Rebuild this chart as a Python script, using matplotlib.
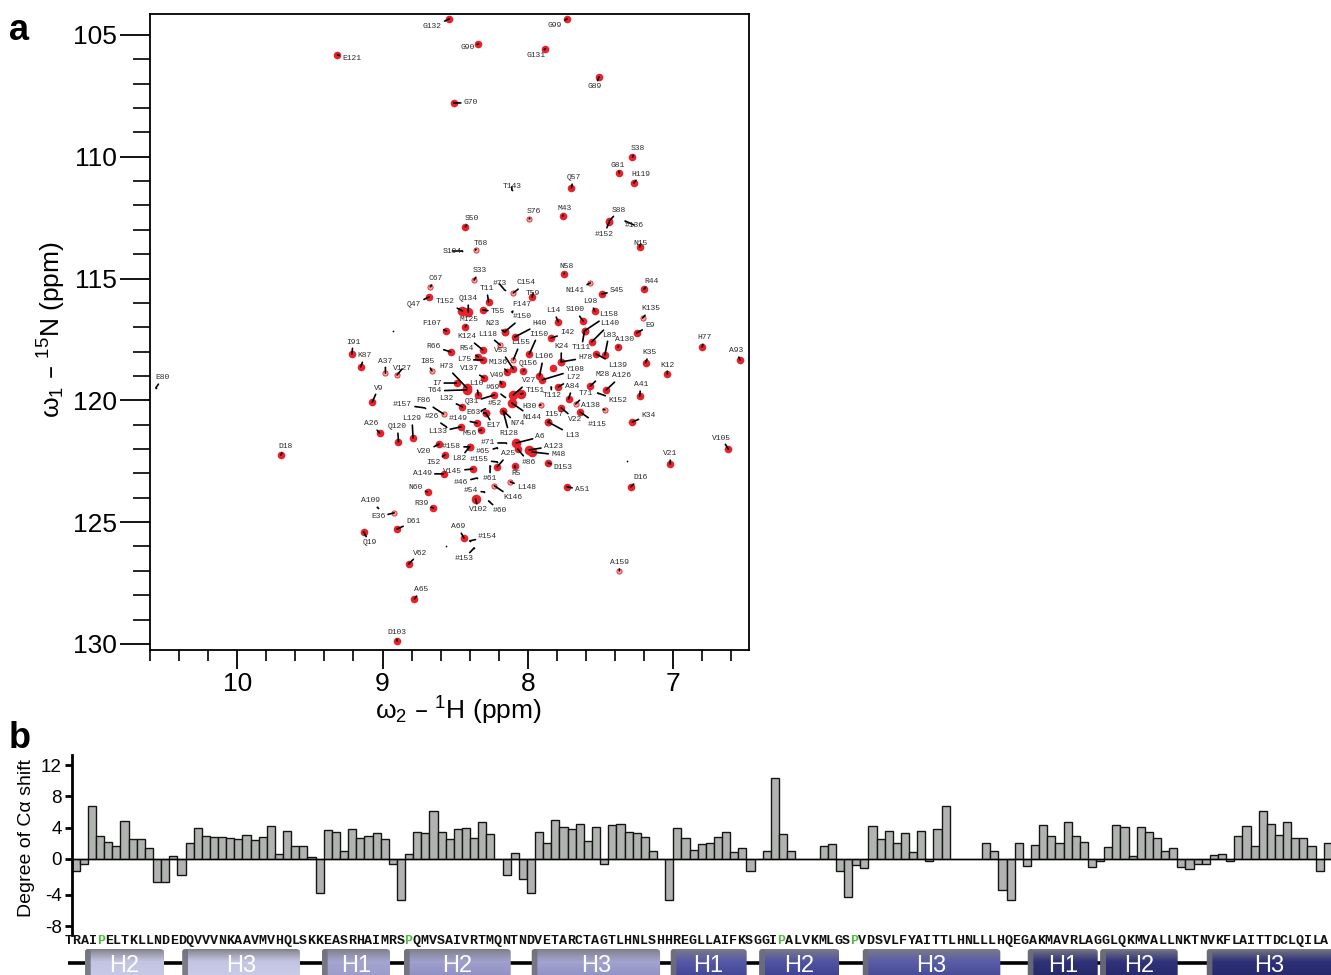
import matplotlib
matplotlib.use('Agg')
import matplotlib.pyplot as plt
import numpy as np
from matplotlib.colors import LinearSegmentedColormap
from matplotlib.patches import FancyBboxPatch
from matplotlib.ticker import MultipleLocator

plt.rcParams['font.family'] = ['Liberation Sans', 'DejaVu Sans']
plt.rcParams['mathtext.default'] = 'regular'

# Assigned HSQC peaks
peak_names = ['G132', 'G99', 'G90', 'G131', 'E121', 'G89', 'G70', 'S38', 'G81', 'H119',
              'Q57', 'T143', 'S76', 'M43', 'S88', '#136', '#152', 'S50', 'N15', 'T68',
              'S104', 'N58', 'S33', 'R44', 'C67', 'Q47', '#73', 'C154', 'T59', 'T11',
              'T152', 'Q134', 'T55', 'F147', '#150', 'N23', 'H40', 'M125', 'F107', 'L118',
              'I150', 'L155', 'K124', 'R54', 'R66', 'V53', 'L75', 'M136', 'Q156', 'L106',
              'I91', 'K87', 'A37', 'V127', 'I85', 'H73', 'V137', 'V49', 'I7', 'T64',
              'L10', '#69', 'Q31', 'V9', 'L32', 'F86', '#157', '#52', 'E63', 'H30',
              '#149', '#26', 'T151', 'V27', 'Y108', 'T112', 'L72', 'A84', 'M28', 'A126',
              'T71', 'K152', 'A138', '#115', 'V22', 'I157', 'L13', 'N144', 'N74', 'E17',
              'R128', 'M56', 'L133', 'Q120', 'L129', 'A26', 'A6', 'A123', 'M48', 'D18',
              'D153', 'A51', 'R5', '#86', 'A25', '#155', 'L82', '#158', '#71', '#65',
              'V20', 'I52', 'A149', 'V145', '#61', '#46', 'N60', '#54', 'L148', 'K146',
              'V102', '#60', 'R39', 'A109', 'E36', 'D61', 'Q19', 'A69', '#154', '#153',
              'V62', 'A65', 'A159', 'D103', 'D16', 'V105', 'V21', 'E80', 'K34', 'A41',
              'K12', 'K35', 'H77', 'A93', 'A130', 'E9', 'K135', 'L83', 'L139', 'L140',
              'L158', 'T111', 'S100', 'L98', 'L14', 'I42', 'K24', 'H78', 'S45', 'N141']
peak_w2 = [8.54, 7.73, 8.34, 7.88, 9.31, 7.51, 8.51, 7.28, 7.37, 7.27,
           7.70, 8.11, 7.99, 7.76, 7.44, 7.33, 7.44, 8.43, 7.23, 8.36,
           8.45, 7.75, 8.37, 7.20, 8.67, 8.68, 8.16, 8.10, 7.97, 8.27,
           8.45, 8.41, 8.31, 8.11, 8.16, 8.16, 8.09, 8.43, 8.56, 8.19,
           7.99, 8.10, 8.31, 8.34, 8.53, 8.10, 8.31, 8.14, 8.03, 7.92,
           9.21, 9.15, 8.98, 8.90, 8.66, 8.42, 8.30, 8.18, 8.49, 8.42,
           8.34, 8.16, 8.23, 9.07, 8.45, 8.58, 8.71, 8.32, 8.29, 7.91,
           8.35, 8.56, 8.05, 8.10, 7.90, 7.84, 7.79, 7.72, 7.57, 7.46,
           7.67, 7.52, 7.47, 7.64, 7.77, 7.86, 7.86, 8.11, 8.17, 8.29,
           8.17, 8.32, 8.46, 8.89, 8.79, 9.02, 8.08, 7.99, 7.97, 9.70,
           7.86, 7.73, 8.09, 8.07, 8.21, 8.21, 8.40, 8.40, 8.15, 8.21,
           8.61, 8.57, 8.58, 8.38, 8.26, 8.35, 8.69, 8.30, 8.12, 8.23,
           8.36, 8.27, 8.65, 9.03, 8.92, 8.90, 9.13, 8.44, 8.40, 8.37,
           8.82, 8.78, 7.37, 8.90, 7.29, 6.62, 7.02, 10.56, 7.28, 7.23,
           7.04, 7.19, 6.80, 6.54, 7.38, 7.25, 7.21, 7.47, 7.53, 7.56,
           7.61, 7.61, 7.62, 7.54, 7.79, 7.84, 7.77, 7.77, 7.49, 7.57]
peak_w1 = [104.34, 104.34, 105.37, 105.57, 105.82, 106.72, 107.79, 110.01, 110.67, 111.08,
           111.28, 111.36, 112.55, 112.43, 112.64, 112.64, 112.68, 112.88, 113.70, 113.83,
           113.87, 114.81, 115.06, 115.43, 115.34, 115.76, 115.47, 115.59, 115.76, 115.96,
           116.33, 116.37, 116.29, 116.37, 117.19, 117.19, 117.40, 116.99, 117.15, 117.73,
           118.10, 118.34, 117.93, 118.22, 118.01, 118.71, 118.34, 118.83, 118.79, 119.00,
           118.10, 118.63, 118.88, 118.96, 118.79, 119.49, 119.08, 119.33, 119.29, 119.57,
           119.78, 119.86, 119.78, 120.07, 120.27, 120.56, 120.31, 120.43, 120.52, 120.19,
           120.93, 121.09, 119.74, 119.78, 119.16, 119.45, 119.45, 119.94, 119.41, 119.57,
           120.15, 119.70, 120.39, 120.48, 120.31, 120.89, 120.89, 120.11, 120.43, 120.52,
           120.43, 121.22, 121.09, 121.71, 121.54, 121.34, 121.75, 122.04, 122.12, 122.24,
           122.57, 123.55, 122.69, 122.00, 122.73, 122.53, 121.91, 121.91, 121.75, 121.95,
           121.79, 122.24, 123.02, 122.82, 122.69, 123.19, 123.76, 123.76, 123.35, 123.51,
           124.05, 124.13, 124.42, 124.42, 124.62, 125.28, 125.40, 125.65, 125.77, 126.06,
           126.72, 128.15, 127.00, 129.88, 123.55, 122.00, 122.61, 119.49, 120.89, 119.82,
           118.92, 118.46, 117.81, 118.34, 117.81, 117.23, 116.62, 118.14, 118.10, 117.60,
           117.15, 117.15, 116.74, 116.33, 116.78, 117.44, 118.42, 118.42, 115.63, 115.18]
weak_peaks = ['S76', 'S33', 'C67', 'A37', 'V127', 'I85', 'L155', 'H30', 'A138', 'K135',
              'L118', 'T68', 'N141', 'F86', 'E36', 'L148', 'K146', 'T71', 'C154', 'A159']
tiny_peaks = ['T143', '#136', '#73', 'S104', 'F147', '#69', '#157', '#26', '#52', 'K152', '#155',
              '#71', '#65', '#61', '#46', '#54', '#60', 'A109', '#154', '#153', 'E80', 'T112']
large_peaks = ['T151', 'V27', 'N144', 'A123', 'M48', 'A6', 'H73', 'T64', 'T152', 'Q134', 'V102']
# Peaks without an assignment
other_w2 = [7.83, 8.93, 7.32, 8.56]
other_w1 = [118.67, 117.15, 122.49, 125.98]

# Per-residue shift
shift_values = [-1.5, -0.7, 6.8, 3.0, 2.2, 1.7, 4.9, 2.5, 2.6, 1.4,
                -3.0, -3.0, 0.4, -2.0, 2.1, 4.0, 2.9, 2.8, 2.8, 2.7,
                2.6, 3.1, 2.4, 2.8, 4.2, 0.7, 3.6, 1.6, 1.6, 0.2,
                -4.4, 3.7, 3.5, 1.0, 3.9, 2.7, 3.0, 3.3, 2.5, -0.6,
                -5.2, 0.6, 3.5, 3.3, 6.2, 3.5, 2.6, 3.8, 4.0, 2.7,
                4.7, 3.2, 0.05, -2.1, 0.8, -2.5, -4.3, 3.4, 2.0, 5.0,
                4.1, 3.8, 4.5, 2.3, 4.1, -0.7, 4.4, 4.5, 3.5, 3.3,
                2.8, 1.0, 0.0, -5.3, 4.0, 2.7, 1.1, 1.9, 2.1, 2.8,
                3.5, 0.9, 1.4, -1.5, 0.05, 1.0, 10.3, 3.2, 1.0, 0.0,
                0.0, 0.0, 1.6, 1.9, -1.5, -4.8, -0.8, -1.2, 4.2, 2.6,
                3.6, 2.1, 3.3, 0.9, 3.6, -0.2, 3.9, 6.8, 0.0, 0.0,
                0.0, 0.0, 2.0, 1.0, -4.0, -5.2, 2.0, -0.9, 1.8, 4.4,
                2.9, 2.0, 4.7, 3.0, 2.2, -1.0, -0.2, 1.5, 4.4, 4.1,
                0.4, 4.1, 3.5, 2.7, 1.0, 1.4, -1.0, -1.3, -0.6, -0.7,
                0.5, 0.6, -0.3, 2.9, 4.2, 1.7, 6.2, 4.5, 3.1, 4.7,
                2.7, 2.7, 1.7, -1.5, 2.0]
shift_ticks = [12, 8, 4, 0, -4.6, -8.6]
shift_tick_labels = ['12', '8', '4', '0', '-4', '-8']

sequence = ('TRAIPELTKLLNDEDQVVVNKAAVMVHQLSKKEASRHAIMRSPQMVSAIVRTMQNTNDVETARCTAGTLHNLSHH'
            'REGLLAIFKSGGIPALVKMLGSPVDSVLFYAITTLHNLLLHQEGAKMAVRLAGGLQKMVALLNKTNVKFLAITTDCLQILA')

# Helices, in residue numbers of the sequence row
helix_names = ['H2', 'H3', 'H1', 'H2', 'H3', 'H1', 'H2', 'H3', 'H1', 'H2', 'H3']
helix_start = [3.07, 15.07, 32.31, 42.43, 58.19, 75.34, 86.28, 99.04, 119.40, 128.36, 141.49]
helix_end = [12.81, 29.59, 40.70, 55.60, 74.03, 84.72, 96.15, 116.02, 128.04, 137.91, 157.5]

# Layout and styles
label_dx = [-17, -12, -11, -9, 14, -4, 17, 5, -2, 7,
            2, 0, 4, 2, 10, 9, -5, 6, 1, 5,
            -10, 2, 6, 7, 5, -15, -5, 13, 1, -2,
            -17, 0, 15, 10, 18, -12, 25, 4, -15, -13,
            9, 7, -16, -12, -17, -12, -19, -9, 5, 4,
            1, 4, 0, 5, -5, -20, -15, -5, -20, -32,
            -2, -12, -23, 6, -16, -20, -22, 14, -12, -11,
            -19, -15, 15, 16, 33, 1, 15, 4, 12, 15,
            10, 20, -14, 17, 14, 6, 24, 20, 14, 8,
            6, -12, -23, -1, -1, -8, 24, 24, 26, 5,
            15, 15, 1, 11, 11, -18, -10, -18, -18, -14,
            -15, -12, -21, -20, 0, -16, -12, -13, 16, 18,
            3, 11, -12, -8, -16, 16, 6, -6, 18, -10,
            11, 7, 0, 0, 9, -7, 0, 7, 16, 1,
            0, 4, 2, -4, 7, 13, 8, 4, 21, 18,
            24, -3, -8, -4, -5, 16, 0, 24, 15, -15]
label_dy = [-8, -7, -4, -7, -4, -10, 0, 8, 8, 9,
            10, 3, 7, 7, 11, -4, -12, 8, 3, 7,
            0, 7, 9, 8, 8, -7, 6, 10, 4, 13,
            9, 13, -2, 7, 15, 8, 13, 8, 7, 11,
            20, 17, 13, 8, 5, 18, 0, 9, 7, 19,
            12, 11, 12, 6, 9, 21, 9, 9, 0, -1,
            11, 9, -7, 14, 8, 13, 3, 7, 0, -2,
            4, 10, 3, 14, 10, -9, 9, 12, 11, 14,
            10, -7, 4, -12, -12, 8, -13, -14, -13, -13,
            -23, -3, -5, 15, 19, 9, 6, 4, -3, 8,
            -5, -3, -8, -13, 13, 2, -12, 0, 0, -4,
            -8, -8, 0, -2, -13, -4, 4, 1, -6, -12,
            -11, -10, 4, 7, -4, 7, -11, 11, 4, -11,
            11, 9, 8, 8, 9, 11, 10, 10, 7, 11,
            9, 10, 9, 9, 7, 7, 9, 20, -11, 18,
            16, -17, 11, 9, 11, 5, 15, 4, 3, -8]
FIG_W, FIG_H = 1331, 975
RED = '#e8212b'


def px_axes(left, top, right, bottom):
    return [left / FIG_W, 1 - bottom / FIG_H, (right - left) / FIG_W, (bottom - top) / FIG_H]


fig = plt.figure(figsize=(FIG_W / 100, FIG_H / 100), dpi=100)

# Panel a: spectrum
ax_a = fig.add_axes(px_axes(150, 14, 749, 650))
ax_a.set_xlim(10.6, 6.478)
ax_a.set_ylim(130.25, 104.14)
for spine in ax_a.spines.values():
    spine.set_linewidth(1.3)
ax_a.set_xticks([10, 9, 8, 7])
ax_a.set_yticks([105, 110, 115, 120, 125, 130])
ax_a.xaxis.set_minor_locator(MultipleLocator(0.2))
ax_a.yaxis.set_minor_locator(MultipleLocator(1))
ax_a.tick_params(axis='x', which='major', length=13.5, width=1.3, labelsize=19, pad=2)
ax_a.tick_params(axis='x', which='minor', length=8, width=1.2)
ax_a.tick_params(axis='y', which='major', length=21.5, width=1.3, labelsize=19, pad=2)
ax_a.tick_params(axis='y', which='minor', length=12, width=1.2)

weak = np.isin(peak_names, weak_peaks)
tiny = np.isin(peak_names, tiny_peaks)
large = np.isin(peak_names, large_peaks)
w2 = np.array(peak_w2)
w1 = np.array(peak_w1)
normal = ~(weak | tiny | large)
ax_a.scatter(w2[normal], w1[normal], s=30, color=RED, linewidths=0, zorder=2)
ax_a.scatter(w2[large], w1[large], s=48, color=RED, linewidths=0, zorder=2)
ax_a.scatter(w2[weak], w1[weak], s=14, facecolor='#f5a3a3', edgecolor=RED, linewidths=0.6, zorder=2)
ax_a.scatter(w2[tiny], w1[tiny], s=1.5, color='black', linewidths=0, zorder=2)
ax_a.scatter(other_w2[:1], other_w1[:1], s=30, color=RED, linewidths=0, zorder=2)
ax_a.scatter(other_w2[1:], other_w1[1:], s=1.5, color='black', linewidths=0, zorder=2)

for name, x, y, dx, dy in zip(peak_names, peak_w2, peak_w1, label_dx, label_dy):
    ax_a.annotate(name, xy=(x, y), xytext=(dx, dy), textcoords='offset pixels',
                  ha='center', va='center', fontsize=5.8, family='Liberation Mono', color='#2b2b2b',
                  arrowprops=dict(arrowstyle='-', color='black', lw=1.2, shrinkA=0, shrinkB=0))

fig.text(52 / FIG_W, 1 - 330 / FIG_H, '\u03c9$_{1}$ \u2013 $^{15}$N (ppm)', rotation=90,
         ha='center', va='center', fontsize=19)
fig.text(458 / FIG_W, 1 - 711 / FIG_H, '\u03c9$_{2}$ \u2013 $^{1}$H (ppm)',
         ha='center', va='center', fontsize=19)
fig.text(9 / FIG_W, 1 - 40 / FIG_H, 'a', fontsize=26, fontweight='bold', ha='left', va='baseline')
fig.text(9 / FIG_W, 1 - 748 / FIG_H, 'b', fontsize=26, fontweight='bold', ha='left', va='baseline')

# Panel b: shifts
ax_b = fig.add_axes(px_axes(71.7, 755, 1331, 935))
residues = np.arange(1, len(shift_values) + 1)
ax_b.bar(residues, shift_values, width=1.0, color='#b1b3b1', edgecolor='#151515', linewidth=1.0)
ax_b.axhline(0, color='black', lw=1.0)
ax_b.set_xlim(0.5, 155.4)
ax_b.set_ylim(-9.72, 13.3)
for side in ['top', 'right', 'bottom']:
    ax_b.spines[side].set_visible(False)
ax_b.spines['left'].set_linewidth(2.0)
ax_b.set_xticks([])
ax_b.set_yticks(shift_ticks)
ax_b.set_yticklabels(shift_tick_labels)
ax_b.tick_params(axis='y', length=5, width=2.0, labelsize=13.5, pad=2)
fig.text(27 / FIG_W, 1 - 838 / FIG_H, 'Degree of C\u03b1 shift', rotation=90,
         ha='center', va='center', fontsize=14)

# Sequence row and helix cartoon, y in pixels above the bottom of the figure
ax_s = fig.add_axes(px_axes(64, 935, 1331, 975))
ax_s.set_xlim(0.47, 156.83)
ax_s.set_ylim(0, 40)
ax_s.axis('off')
for i, letter in enumerate(sequence):
    ax_s.text(i + 1, 34, letter, ha='center', va='center', fontsize=9.6, fontweight='bold',
              family='Liberation Mono', color='#55b848' if letter == 'P' else '#111111')

ax_s.plot([0.93, 156.83], [11.7, 11.7], color='black', lw=2.6, solid_capstyle='butt', zorder=1)

helix_top = ['#c3c4e2', '#c4c5e3', '#a4a5d0', '#9fa0cd', '#a2a3cf', '#5659a8', '#5154a4', '#5a5da8',
             '#2f3278', '#30337a', '#2e3178']
helix_bottom = ['#c9cae8', '#cbcce8', '#9a9bca', '#8e8fc2', '#8f90c4', '#3f4390', '#3c408e', '#444892',
                '#242764', '#25286a', '#242766']
for name, start, end, mid, low in zip(helix_names, helix_start, helix_end, helix_top, helix_bottom):
    cmap = LinearSegmentedColormap.from_list('helix', ['#7d7d85', mid, low])
    gradient = np.linspace(1, 0, 64).reshape(-1, 1) ** 0.8
    image = ax_s.imshow(gradient, extent=(start, end, -4, 26), origin='lower', aspect='auto',
                        cmap=cmap, zorder=2)
    box = FancyBboxPatch((start, -8), end - start, 34, boxstyle='round,pad=0,rounding_size=0.5',
                         mutation_aspect=6, transform=ax_s.transData, facecolor='none', edgecolor='none')
    ax_s.add_patch(box)
    image.set_clip_path(box)
    cap = FancyBboxPatch((start, -8), 0.7, 34, boxstyle='round,pad=0,rounding_size=0.35',
                         mutation_aspect=8, facecolor='#6f6f78', edgecolor='none', alpha=0.85, zorder=3)
    ax_s.add_patch(cap)
    ax_s.text((start + end) / 2 if end < 157 else 149.2, 9, name, color='white', fontsize=17,
              ha='center', va='center', zorder=4)
ax_s.set_xlim(0.47, 156.83)
ax_s.set_ylim(0, 40)

fig.savefig('out.png', dpi=100)
